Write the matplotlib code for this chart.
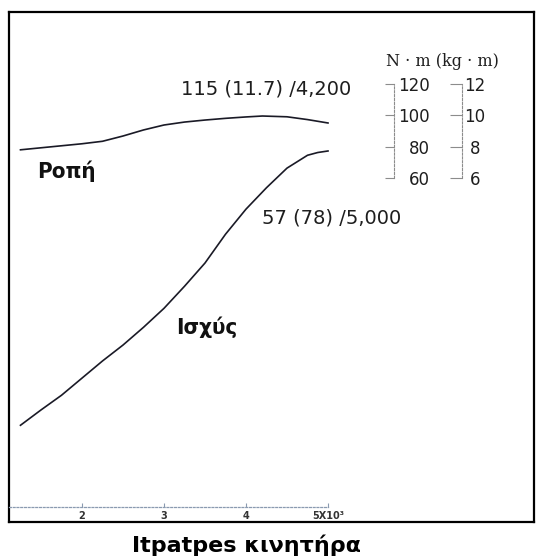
import matplotlib
matplotlib.use("Agg")
import matplotlib.pyplot as plt

plt.rcParams['font.family'] = ['DejaVu Sans']

# engine speed (rpm) vs torque (N·m) and power (kW)
torque_rpm = [1250, 1500, 1750, 2000, 2250, 2500, 2750, 3000, 3250, 3500,
              3750, 4000, 4200, 4500, 4750, 5000]
torque_nm = [93.2, 94.5, 95.8, 97.1, 98.7, 102.1, 106.0, 109.2, 111.1, 112.4,
             113.5, 114.4, 115.0, 114.5, 112.7, 110.5]

power_rpm = [1250, 1500, 1750, 2000, 2250, 2500, 2750, 3000, 3250, 3500,
             3750, 4000, 4250, 4500, 4750, 4875, 5000]
power_kw = [12.2, 14.7, 17.1, 19.9, 22.7, 25.3, 28.2, 31.3, 34.9, 38.7,
            43.4, 47.5, 51.0, 54.2, 56.3, 56.75, 57.0]

peak_torque = 115
peak_torque_kgm = 11.7
peak_torque_rpm = 4200
peak_power = 57
peak_power_ps = 78
peak_power_rpm = 5000

rpm_ticks = [2000, 3000, 4000, 5000]
rpm_labels = ['2', '3', '4', '5X10³']
nm_ticks = [60, 80, 100, 120]
kgm_ticks = [6, 8, 10, 12]

W, H = 536, 558
fig = plt.figure(figsize=(W / 100, H / 100), dpi=100)


def rect(x0, y0, x1, y1):
    """pixel box (top-left origin) -> figure fraction"""
    return [x0 / W, 1 - y1 / H, (x1 - x0) / W, (y1 - y0) / H]


line_col = '#1a1a26'
text_col = '#1e1e1e'

# main framed panel, torque on ax, power on a twin
ax = fig.add_axes(rect(9, 12, 534, 522))
ax.set_xlim(1110, 7512)
ax.set_ylim(-146.9, 182.1)
ax.set_xticks([])
ax.set_yticks([])
for s in ax.spines.values():
    s.set_linewidth(1.6)
    s.set_color('black')

axp = ax.twinx()
axp.set_ylim(-3.6, 79.7)
axp.set_yticks([])
for s in axp.spines.values():
    s.set_visible(False)

ax.plot(torque_rpm, torque_nm, color=line_col, lw=1.2)
axp.plot(power_rpm, power_kw, color=line_col, lw=1.2)

ax.annotate(f'{peak_torque} ({peak_torque_kgm}) /{peak_torque_rpm:,}',
            xy=(peak_torque_rpm, peak_torque), xytext=(3, 19.5),
            textcoords='offset points', ha='center', va='center',
            fontsize=14, color=text_col)
axp.annotate(f'{peak_power} ({peak_power_ps}) /{peak_power_rpm:,}',
             xy=(peak_power_rpm, peak_power), xytext=(-47.5, -48),
             textcoords='offset points', ha='left', va='center',
             fontsize=14, color=text_col)

ax.text(1805, 79.5, 'Ροπή', fontsize=16, fontweight='bold',
        fontstretch='condensed', ha='center', va='center', color='#111111')
axp.text(3524, 28.2, 'Ισχύς', fontsize=16, fontweight='bold',
         fontstretch='condensed', ha='center', va='center', color='#111111')

# dotted rpm scale near the bottom of the panel
axx = fig.add_axes(rect(9, 497, 328, 507))
axx.set_xlim(1110, 5000)
axx.set_yticks([])
axx.patch.set_visible(False)
for k in ['top', 'left', 'right']:
    axx.spines[k].set_visible(False)
axx.spines['bottom'].set_linestyle((0, (1.5, 1.5)))
axx.spines['bottom'].set_color('#8a9ab0')
axx.spines['bottom'].set_linewidth(0.9)
axx.set_xticks(rpm_ticks)
axx.set_xticklabels(rpm_labels, fontweight='bold')
axx.tick_params(axis='x', direction='in', length=3, width=0.8,
                color='#8a9ab0', pad=3, labelsize=7, labelcolor='#333333')

# torque rulers: N·m and kg·m
fig.text(442 / W, 1 - 61 / H, 'N · m (kg · m)', family='DejaVu Serif',
         fontsize=11.5, ha='center', va='center', color=text_col)

ruler_col = '#8c8c8c'
for x_spine, ticks, tlen, pad, ha in [(394, nm_ticks, 6.5, 26, 'right'),
                                      (462, kgm_ticks, 8.5, 9.4, 'center')]:
    r = fig.add_axes(rect(x_spine - 14, 84, x_spine, 178))
    r.set_ylim(ticks[0], ticks[-1])
    r.set_xticks([])
    r.patch.set_visible(False)
    for k in ['top', 'left', 'bottom']:
        r.spines[k].set_visible(False)
    r.spines['right'].set_linestyle((0, (2, 1.5)))
    r.spines['right'].set_color(ruler_col)
    r.spines['right'].set_linewidth(0.8)
    r.yaxis.tick_right()
    r.set_yticks(ticks)
    r.tick_params(axis='y', direction='in', length=tlen, width=0.8,
                  color=ruler_col, pad=pad, labelsize=12, labelcolor=text_col)
    for lab in r.get_yticklabels():
        lab.set_ha(ha)

fig.text(246 / W, 1 - 545 / H, 'Itpatpes κινητήρα', fontsize=16,
         fontweight='bold', ha='center', va='center', color='black')

fig.savefig('out.png', dpi=100)
